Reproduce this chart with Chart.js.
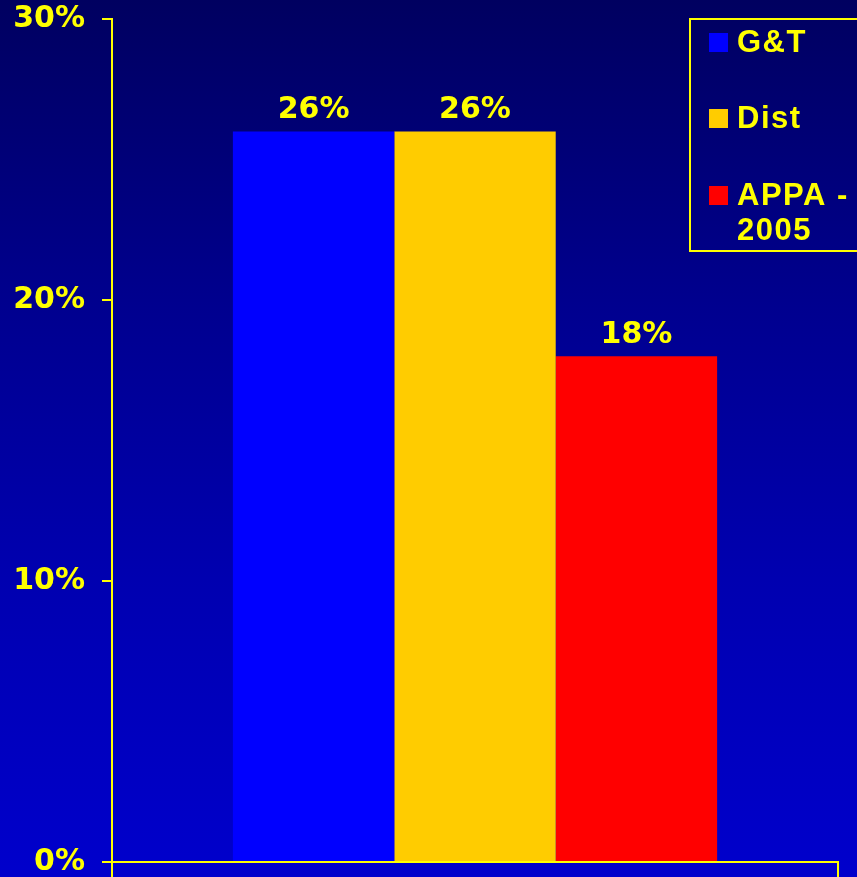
<!DOCTYPE html>
<html>
<head>
<meta charset="utf-8">
<script src="https://cdn.jsdelivr.net/npm/chart.js@4.4.1/dist/chart.umd.min.js"></script>
<style>
  html, body { margin: 0; padding: 0; }
  body {
    width: 857px; height: 877px; overflow: hidden;
    background: linear-gradient(to bottom, #000060 0%, #00008f 35%, #0000b0 66%, #0000cc 100%);
  }
  canvas { display: block; }
</style>
</head>
<body>
<canvas id="chart" width="857" height="877"></canvas>
<script>
// Chart data
const categories = [''];
const seriesNames = ['G&T', 'Dist', 'APPA - 2005'];
const seriesValues = [[26], [26], [18]];
const seriesColors = ['#0000ff', '#ffcc00', '#ff0000'];
const yTicks = [0, 10, 20, 30];

const yellow = '#ffff00';
const labelFont = 'bold 30px "DejaVu Sans", Verdana, sans-serif';

// Value labels above each bar
const valueLabels = {
    id: 'valueLabels',
    afterDatasetsDraw(chart) {
        const ctx = chart.ctx;
        ctx.save();
        ctx.font = labelFont;
        ctx.fillStyle = yellow;
        ctx.textAlign = 'center';
        ctx.textBaseline = 'alphabetic';
        chart.data.datasets.forEach((ds, i) => {
            chart.getDatasetMeta(i).data.forEach((bar, j) => {
                ctx.fillText(ds.data[j] + '%', bar.x, bar.y - 13);
            });
        });
        ctx.restore();
    }
};

// Boxed legend in the top right corner
const boxLegend = {
    id: 'boxLegend',
    afterDraw(chart) {
        const ctx = chart.ctx;
        ctx.save();
        ctx.strokeStyle = yellow;
        ctx.lineWidth = 2;
        ctx.strokeRect(690, 19, 180, 232);
        ctx.font = 'bold 31px "Liberation Sans", Arial, sans-serif';
        ctx.letterSpacing = '1.5px';
        ctx.textBaseline = 'alphabetic';
        const rows = [
            { y: 52, lines: ['G&T'] },
            { y: 128, lines: ['Dist'] },
            { y: 205, lines: ['APPA -', '2005'] }
        ];
        rows.forEach((row, i) => {
            ctx.fillStyle = chart.data.datasets[i].backgroundColor;
            ctx.fillRect(709, row.y - 19, 19, 19);
            ctx.fillStyle = yellow;
            row.lines.forEach((t, k) => ctx.fillText(t, 737, row.y + k * 35));
        });
        ctx.restore();
    }
};

new Chart(document.getElementById('chart'), {
    type: 'bar',
    data: {
        labels: categories,
        datasets: seriesNames.map((name, i) => ({
            label: name,
            data: seriesValues[i],
            backgroundColor: seriesColors[i],
            borderWidth: 0,
            barPercentage: 1,
            categoryPercentage: 0.667
        }))
    },
    options: {
        responsive: false,
        animation: false,
        layout: { padding: { left: 0, top: 19, right: 19, bottom: 0 } },
        plugins: {
            legend: { display: false },
            tooltip: { enabled: false }
        },
        scales: {
            x: {
                offset: true,
                grid: {
                    offset: true,
                    drawOnChartArea: false,
                    color: yellow,
                    lineWidth: 2,
                    tickLength: 15
                },
                border: { color: yellow, width: 2 },
                ticks: { display: false },
                afterFit: (s) => {
                    s.height = 15;
                    s.paddingLeft = 0;
                    s.paddingRight = 0;
                }
            },
            y: {
                min: 0,
                max: 30,
                afterBuildTicks: (s) => { s.ticks = yTicks.map(v => ({ value: v })); },
                grid: {
                    drawOnChartArea: false,
                    color: yellow,
                    lineWidth: 2,
                    tickLength: 10
                },
                border: { color: yellow, width: 2 },
                ticks: {
                    color: yellow,
                    padding: 17,
                    font: { family: '"DejaVu Sans", Verdana, sans-serif', size: 30, weight: 'bold' },
                    callback: (v) => v + '%'
                },
                afterFit: (s) => {
                    s.width = 112;
                    s.paddingTop = 0;
                    s.paddingBottom = 0;
                }
            }
        }
    },
    plugins: [valueLabels, boxLegend]
});
</script>
</body>
</html>
